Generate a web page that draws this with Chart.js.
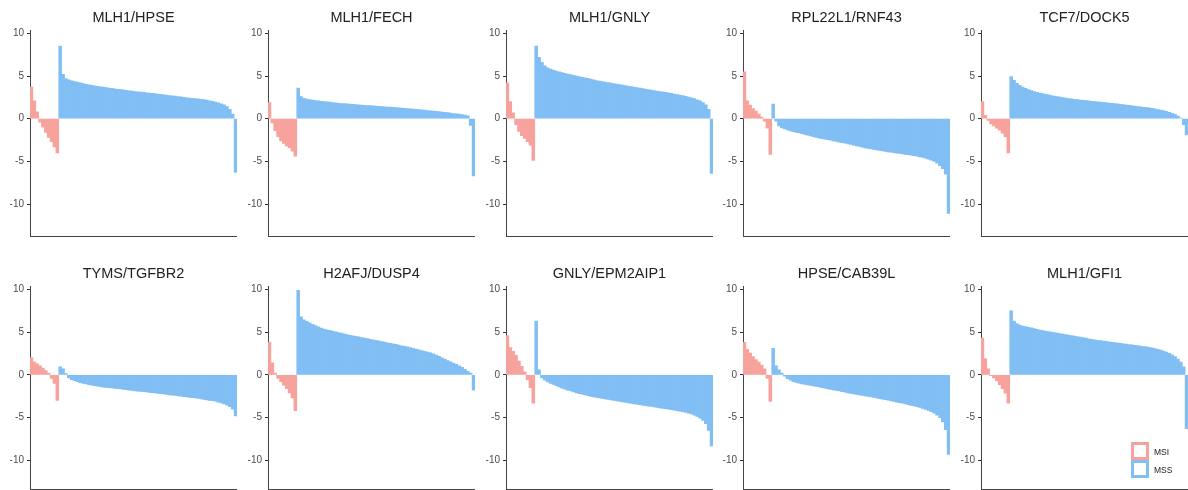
<!DOCTYPE html>
<html>
<head>
<meta charset="utf-8">
<script src="https://cdn.jsdelivr.net/npm/chart.js@4.4.0/dist/chart.umd.min.js"></script>
<style>
body { margin: 0; background: #fff; font-family: "Liberation Sans", Arial, sans-serif; }
#wrap { position: relative; width: 1188px; height: 490px; overflow: hidden; }
.panel { position: absolute; }
.key { position: absolute; left: 1131px; width: 18px; height: 18px; box-sizing: border-box; border: 3px solid; background: #fff; z-index: 5; }
.keylab { position: absolute; left: 1154px; font-size: 8.5px; line-height: 10px; color: #1a1a1a; z-index: 5; }
</style>
</head>
<body>
<div id="wrap">
  <div class="key" style="top:442px; border-color:#F7A29C"></div>
  <div class="keylab" style="top:447px">MSI</div>
  <div class="key" style="top:460px; border-color:#80BEF4"></div>
  <div class="keylab" style="top:465px">MSS</div>
</div>
<script>
// gene pair per panel, left to right, top row first
var titles = ['MLH1/HPSE', 'MLH1/FECH', 'MLH1/GNLY', 'RPL22L1/RNF43', 'TCF7/DOCK5',
              'TYMS/TGFBR2', 'H2AFJ/DUSP4', 'GNLY/EPM2AIP1', 'HPSE/CAB39L', 'MLH1/GFI1'];
var groups = ['MSI', 'MSS'];
var yTicks = [-10, -5, 0, 5, 10];

// MSI samples, sorted
var msi_MLH1_HPSE     = [3.7, 2.1, 0.8, -0.4, -1.0, -1.6, -2.2, -2.7, -3.3, -4.0];
var msi_MLH1_FECH     = [1.9, -0.5, -1.4, -2.1, -2.6, -2.9, -3.2, -3.4, -3.8, -4.4];
var msi_MLH1_GNLY     = [4.2, 2.0, 0.7, -0.7, -1.5, -2.0, -2.3, -2.7, -3.1, -4.9];
var msi_RPL22L1_RNF43 = [5.5, 2.1, 1.6, 1.2, 0.9, 0.55, 0.2, -0.3, -1.1, -4.2];
var msi_TCF7_DOCK5    = [2.0, 0.4, -0.2, -0.6, -0.85, -1.1, -1.35, -1.7, -2.1, -4.0];
var msi_TYMS_TGFBR2   = [2.0, 1.5, 1.3, 1.05, 0.8, 0.5, 0.2, -0.4, -1.0, -3.0];
var msi_H2AFJ_DUSP4   = [3.8, 1.4, 0.2, -0.4, -0.8, -1.2, -1.6, -2.1, -2.7, -4.2];
var msi_GNLY_EPM2AIP1 = [4.6, 3.2, 2.75, 2.3, 1.6, 1.0, 0.35, -0.6, -1.5, -3.3];
var msi_HPSE_CAB39L   = [3.8, 3.0, 2.55, 2.15, 1.8, 1.5, 1.15, 0.7, -0.4, -3.1];
var msi_MLH1_GFI1     = [4.3, 1.9, 0.7, -0.1, -0.35, -0.7, -1.15, -1.6, -2.15, -3.3];

// MSS samples, sorted
var mss_MLH1_HPSE = [8.5, 5.2, 4.7, 4.55, 4.45, 4.35, 4.28, 4.2, 4.12, 4.04,
    3.98, 3.92, 3.86, 3.8, 3.75, 3.7, 3.65, 3.6, 3.55, 3.5,
    3.45, 3.41, 3.37, 3.33, 3.28, 3.23, 3.19, 3.15, 3.12, 3.08,
    3.04, 3.01, 2.97, 2.93, 2.89, 2.85, 2.81, 2.77, 2.72, 2.68,
    2.64, 2.6, 2.55, 2.5, 2.46, 2.43, 2.4, 2.36, 2.32, 2.28,
    2.23, 2.17, 2.1, 2.03, 1.95, 1.85, 1.74, 1.62, 1.42, 1.1,
    0.55, -6.3];
var mss_MLH1_FECH = [3.6, 2.6, 2.4, 2.3, 2.24, 2.18, 2.12, 2.08, 2.05, 2.02,
    1.99, 1.95, 1.9, 1.85, 1.81, 1.78, 1.76, 1.74, 1.72, 1.69,
    1.66, 1.64, 1.61, 1.58, 1.55, 1.53, 1.5, 1.48, 1.45, 1.42,
    1.4, 1.37, 1.35, 1.33, 1.3, 1.27, 1.24, 1.22, 1.2, 1.17,
    1.13, 1.1, 1.06, 1.03, 1.0, 0.96, 0.93, 0.89, 0.85, 0.82,
    0.79, 0.75, 0.71, 0.66, 0.61, 0.57, 0.53, 0.48, 0.42, 0.33,
    -0.8, -6.7];
var mss_MLH1_GNLY = [8.5, 7.2, 6.6, 6.2, 5.95, 5.82, 5.7, 5.58, 5.5, 5.4,
    5.32, 5.24, 5.16, 5.08, 5.0, 4.94, 4.86, 4.79, 4.72, 4.64,
    4.56, 4.48, 4.42, 4.36, 4.3, 4.24, 4.18, 4.12, 4.06, 4.0,
    3.94, 3.88, 3.82, 3.76, 3.7, 3.64, 3.58, 3.52, 3.46, 3.41,
    3.36, 3.3, 3.24, 3.19, 3.14, 3.08, 3.02, 2.96, 2.9, 2.84,
    2.77, 2.7, 2.62, 2.54, 2.45, 2.35, 2.22, 2.08, 1.9, 1.62,
    1.1, -6.4];
var mss_RPL22L1_RNF43 = [1.7, -0.3, -0.85, -1.07, -1.2, -1.33, -1.44, -1.52, -1.6, -1.68,
    -1.76, -1.85, -1.94, -2.03, -2.12, -2.2, -2.27, -2.33, -2.4, -2.46,
    -2.53, -2.6, -2.67, -2.74, -2.81, -2.88, -2.95, -3.02, -3.1, -3.18,
    -3.26, -3.34, -3.42, -3.48, -3.54, -3.6, -3.66, -3.72, -3.78, -3.83,
    -3.88, -3.93, -3.98, -4.03, -4.08, -4.13, -4.18, -4.23, -4.28, -4.34,
    -4.4, -4.47, -4.55, -4.64, -4.74, -4.86, -5.02, -5.22, -5.5, -5.85,
    -6.5, -11.1];
var mss_TCF7_DOCK5 = [4.95, 4.5, 4.15, 3.92, 3.72, 3.55, 3.42, 3.3, 3.19, 3.09,
    3.0, 2.93, 2.86, 2.79, 2.72, 2.66, 2.6, 2.54, 2.48, 2.42,
    2.37, 2.32, 2.28, 2.23, 2.19, 2.15, 2.11, 2.08, 2.04, 2.0,
    1.97, 1.94, 1.91, 1.88, 1.84, 1.81, 1.77, 1.73, 1.69, 1.65,
    1.6, 1.56, 1.52, 1.48, 1.43, 1.39, 1.34, 1.3, 1.26, 1.21,
    1.15, 1.08, 1.01, 0.94, 0.85, 0.75, 0.64, 0.51, 0.3, 0.05,
    -0.7, -1.9];
var mss_TYMS_TGFBR2 = [0.95, 0.7, 0.15, -0.35, -0.55, -0.68, -0.8, -0.9, -0.99, -1.07,
    -1.14, -1.21, -1.27, -1.33, -1.39, -1.43, -1.47, -1.5, -1.53, -1.57,
    -1.61, -1.65, -1.69, -1.74, -1.79, -1.83, -1.87, -1.91, -1.94, -1.97,
    -2.0, -2.04, -2.08, -2.12, -2.16, -2.2, -2.24, -2.28, -2.33, -2.37,
    -2.41, -2.45, -2.5, -2.55, -2.59, -2.63, -2.67, -2.71, -2.76, -2.8,
    -2.86, -2.92, -2.98, -3.03, -3.09, -3.18, -3.28, -3.39, -3.53, -3.72,
    -4.0, -4.8];
var mss_H2AFJ_DUSP4 = [9.9, 6.8, 6.45, 6.25, 6.08, 5.92, 5.76, 5.62, 5.48, 5.37,
    5.28, 5.2, 5.12, 5.04, 4.96, 4.88, 4.8, 4.72, 4.64, 4.56,
    4.5, 4.44, 4.37, 4.3, 4.24, 4.17, 4.1, 4.04, 3.97, 3.9,
    3.83, 3.76, 3.7, 3.63, 3.56, 3.48, 3.41, 3.34, 3.27, 3.18,
    3.1, 3.01, 2.93, 2.85, 2.76, 2.67, 2.57, 2.46, 2.33, 2.18,
    2.0, 1.84, 1.68, 1.53, 1.38, 1.22, 1.05, 0.88, 0.66, 0.42,
    0.2, -1.8];
var mss_GNLY_EPM2AIP1 = [6.3, 0.6, -0.35, -0.62, -0.82, -0.99, -1.13, -1.27, -1.41, -1.55,
    -1.66, -1.78, -1.89, -2.0, -2.1, -2.19, -2.27, -2.35, -2.43, -2.51,
    -2.58, -2.64, -2.7, -2.76, -2.82, -2.88, -2.93, -2.99, -3.05, -3.11,
    -3.17, -3.23, -3.29, -3.34, -3.39, -3.44, -3.49, -3.55, -3.6, -3.65,
    -3.7, -3.75, -3.8, -3.86, -3.91, -3.96, -4.01, -4.06, -4.12, -4.18,
    -4.24, -4.31, -4.39, -4.48, -4.58, -4.7, -4.86, -5.06, -5.32, -5.72,
    -6.5, -8.3];
var mss_HPSE_CAB39L = [3.1, 1.05, 0.6, 0.2, -0.15, -0.45, -0.63, -0.79, -0.89, -0.97,
    -1.05, -1.11, -1.17, -1.23, -1.29, -1.35, -1.42, -1.49, -1.56, -1.63,
    -1.7, -1.76, -1.82, -1.88, -1.95, -2.02, -2.1, -2.17, -2.23, -2.29,
    -2.35, -2.41, -2.47, -2.53, -2.59, -2.65, -2.71, -2.78, -2.84, -2.9,
    -2.97, -3.04, -3.11, -3.18, -3.25, -3.32, -3.4, -3.48, -3.56, -3.63,
    -3.72, -3.82, -3.93, -4.04, -4.15, -4.3, -4.48, -4.7, -5.0, -5.5,
    -6.4, -9.3];
var mss_MLH1_GFI1 = [7.5, 6.3, 6.0, 5.83, 5.72, 5.64, 5.57, 5.5, 5.42, 5.34,
    5.25, 5.19, 5.13, 5.07, 5.0, 4.96, 4.9, 4.84, 4.77, 4.71,
    4.65, 4.59, 4.53, 4.47, 4.41, 4.35, 4.29, 4.23, 4.17, 4.11,
    4.05, 4.0, 3.96, 3.92, 3.87, 3.82, 3.77, 3.73, 3.68, 3.64,
    3.59, 3.55, 3.51, 3.47, 3.42, 3.37, 3.32, 3.27, 3.21, 3.15,
    3.08, 2.99, 2.9, 2.79, 2.66, 2.51, 2.34, 2.14, 1.86, 1.5,
    0.95, -6.3];

var msiSets = [msi_MLH1_HPSE, msi_MLH1_FECH, msi_MLH1_GNLY, msi_RPL22L1_RNF43, msi_TCF7_DOCK5,
               msi_TYMS_TGFBR2, msi_H2AFJ_DUSP4, msi_GNLY_EPM2AIP1, msi_HPSE_CAB39L, msi_MLH1_GFI1];
var mssSets = [mss_MLH1_HPSE, mss_MLH1_FECH, mss_MLH1_GNLY, mss_RPL22L1_RNF43, mss_TCF7_DOCK5,
               mss_TYMS_TGFBR2, mss_H2AFJ_DUSP4, mss_GNLY_EPM2AIP1, mss_HPSE_CAB39L, mss_MLH1_GFI1];

var colors = { MSI: '#F7A29C', MSS: '#80BEF4' };

// panel placement
var colLeft = [0, 238, 476, 713, 951];
var rowTop = [0, 256];
var rowHeight = [237, 234];
var rowYMin = [-13.75, -13.35];
var yMax = 10.35;

Chart.defaults.font.family = '"Liberation Sans", Arial, sans-serif';

var wrap = document.getElementById('wrap');

titles.forEach(function (title, p) {
    var row = Math.floor(p / 5), col = p % 5;
    var msi = msiSets[p], mss = mssSets[p];

    var div = document.createElement('div');
    div.className = 'panel';
    div.style.left = colLeft[col] + 'px';
    div.style.top = rowTop[row] + 'px';
    var canvas = document.createElement('canvas');
    canvas.width = 237;
    canvas.height = rowHeight[row];
    div.appendChild(canvas);
    wrap.appendChild(div);

    var labels = msi.concat(mss).map(function (v, i) { return String(i + 1); });
    var msiData = msi.concat(mss.map(function () { return null; }));
    var mssData = msi.map(function () { return null; }).concat(mss);

    new Chart(canvas.getContext('2d'), {
        type: 'bar',
        data: {
            labels: labels,
            datasets: [
                { label: groups[0], data: msiData, backgroundColor: colors.MSI },
                { label: groups[1], data: mssData, backgroundColor: colors.MSS }
            ]
        },
        options: {
            responsive: false,
            animation: false,
            events: [],
            layout: { padding: 0 },
            datasets: {
                bar: { grouped: false, barPercentage: 1, categoryPercentage: 1, borderWidth: 0 }
            },
            plugins: {
                legend: { display: false },
                tooltip: { enabled: false },
                title: {
                    display: true,
                    text: title,
                    fullSize: false,
                    color: '#222',
                    font: { size: 14.5, weight: 'normal' },
                    padding: { top: 9, bottom: 4 }
                }
            },
            scales: {
                x: {
                    grid: { display: false, drawTicks: false },
                    ticks: { display: false },
                    border: { display: true, color: '#444', width: 1 },
                    afterFit: function (scale) {
                        scale.height = 1;
                        scale.paddingLeft = 0;
                        scale.paddingRight = 0;
                    }
                },
                y: {
                    min: rowYMin[row],
                    max: yMax,
                    afterBuildTicks: function (scale) {
                        scale.ticks = yTicks.map(function (v) { return { value: v }; });
                    },
                    afterFit: function (scale) {
                        scale.width = 30;
                        scale.paddingTop = 0;
                        scale.paddingBottom = 0;
                    },
                    ticks: { color: '#4d4d4d', font: { size: 10 }, padding: 3 },
                    grid: { display: true, drawOnChartArea: false, drawTicks: true, tickLength: 3, color: '#333' },
                    border: { display: true, color: '#444', width: 1 }
                }
            }
        }
    });
});
</script>
</body>
</html>
